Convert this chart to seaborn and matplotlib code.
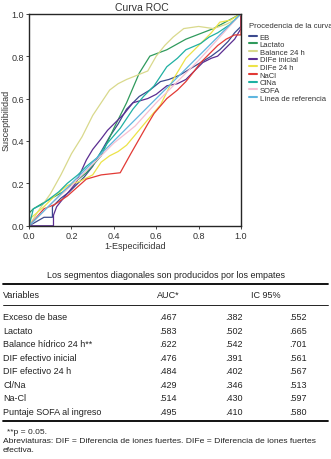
import pandas as pd
import seaborn as sns
import matplotlib.pyplot as plt
from matplotlib.lines import Line2D

# ROC curve points (1-Especificidad, Susceptibilidad)
eb_x = [0, 0.07, 0.11, 0.11, 0.15, 0.19, 0.22, 0.26, 0.30, 0.34, 0.38, 0.42, 0.46, 0.52, 0.57, 0.62, 0.66, 0.71, 0.76, 0.81, 0.86, 0.90, 0.94, 0.97, 1.0, 1.0]
eb_y = [0, 0.04, 0.04, 0.09, 0.13, 0.16, 0.19, 0.23, 0.28, 0.35, 0.42, 0.48, 0.55, 0.61, 0.64, 0.68, 0.69, 0.71, 0.74, 0.77, 0.80, 0.83, 0.87, 0.91, 0.94, 1.0]
lac_x = [0, 0, 0.02, 0.07, 0.16, 0.27, 0.34, 0.40, 0.46, 0.52, 0.57, 0.65, 0.74, 0.87, 1.0]
lac_y = [0, 0.06, 0.08, 0.11, 0.16, 0.25, 0.33, 0.46, 0.58, 0.72, 0.80, 0.83, 0.88, 0.93, 1.0]
bal_x = [0, 0.05, 0.10, 0.15, 0.20, 0.25, 0.30, 0.34, 0.38, 0.42, 0.46, 0.51, 0.56, 0.60, 0.64, 0.68, 0.73, 0.80, 0.87, 0.93, 0.97, 1.0]
bal_y = [0, 0.08, 0.15, 0.24, 0.34, 0.42, 0.52, 0.58, 0.64, 0.67, 0.69, 0.71, 0.73, 0.80, 0.85, 0.89, 0.93, 0.94, 0.93, 0.95, 0.97, 1.0]
difi_x = [0, 0.115, 0.115, 0.13, 0.17, 0.22, 0.27, 0.30, 0.34, 0.37, 0.41, 0.45, 0.49, 0.56, 0.60, 0.65, 0.70, 0.74, 0.78, 0.82, 0.86, 0.89, 0.93, 0.97, 1.0, 1.0]
difi_y = [0, 0, 0.05, 0.09, 0.14, 0.20, 0.31, 0.36, 0.41, 0.45, 0.49, 0.53, 0.58, 0.60, 0.62, 0.66, 0.67, 0.69, 0.73, 0.77, 0.79, 0.80, 0.84, 0.88, 0.93, 1.0]
dif24_x = [0, 0, 0.07, 0.12, 0.18, 0.24, 0.30, 0.34, 0.38, 0.42, 0.46, 0.51, 0.56, 0.62, 0.68, 0.74, 0.81, 0.86, 0.90, 0.95, 1.0]
dif24_y = [0, 0.03, 0.09, 0.14, 0.19, 0.21, 0.24, 0.30, 0.33, 0.35, 0.38, 0.44, 0.50, 0.57, 0.69, 0.79, 0.86, 0.91, 0.96, 0.97, 1.0]
nacl_x = [0, 0.07, 0.12, 0.18, 0.27, 0.34, 0.43, 0.48, 0.52, 0.56, 0.59, 0.65, 0.70, 0.74, 0.78, 0.81, 0.85, 0.89, 0.93, 0.97, 1.0, 1.0]
nacl_y = [0, 0.08, 0.10, 0.14, 0.22, 0.24, 0.25, 0.34, 0.41, 0.48, 0.53, 0.60, 0.64, 0.68, 0.73, 0.77, 0.81, 0.85, 0.88, 0.90, 0.90, 1.0]
clna_x = [0, 0.02, 0.06, 0.10, 0.14, 0.18, 0.23, 0.27, 0.32, 0.37, 0.43, 0.49, 0.54, 0.59, 0.65, 0.70, 0.74, 0.81, 0.85, 0.89, 0.95, 1.0]
clna_y = [0, 0.08, 0.10, 0.13, 0.16, 0.20, 0.24, 0.28, 0.32, 0.39, 0.46, 0.55, 0.61, 0.66, 0.75, 0.79, 0.83, 0.86, 0.89, 0.91, 0.95, 1.0]
sofa_x = [0, 0.1, 0.2, 0.3, 0.4, 0.5, 0.6, 0.7, 0.8, 0.9, 1.0]
sofa_y = [0, 0.1, 0.19, 0.29, 0.39, 0.47, 0.58, 0.68, 0.78, 0.89, 1.0]
ref_x = [0, 1]
ref_y = [0, 1]

curve_names = ["EB", "Lactato", "Balance 24 h", "DIFe inicial", "DIFe 24 h",
               "NaCl", "ClNa", "SOFA", "Línea de referencia"]
curve_colors = ["#3c4a8e", "#2f9a5c", "#d9d98c", "#5b2d91", "#ece348",
                "#e23a35", "#1fb0a2", "#f6bfd2", "#5fb6df"]

# table values
variables = ["Exceso de base", "Lactato", "Balance hídrico 24 h**", "DIF efectivo inicial",
             "DIF efectivo 24 h", "Cl/Na", "Na-Cl", "Puntaje SOFA al ingreso"]
auc = [".467", ".583", ".622", ".476", ".484", ".429", ".514", ".495"]
ic_low = [".382", ".502", ".542", ".391", ".402", ".346", ".430", ".410"]
ic_high = [".552", ".665", ".701", ".561", ".567", ".513", ".597", ".580"]

curves = [(eb_x, eb_y), (lac_x, lac_y), (bal_x, bal_y), (difi_x, difi_y), (dif24_x, dif24_y),
          (nacl_x, nacl_y), (clna_x, clna_y), (sofa_x, sofa_y), (ref_x, ref_y)]
frames = []
for name, (cx, cy) in zip(curve_names, curves):
    frames.append(pd.DataFrame({"x": cx, "y": cy, "curva": name}))
df = pd.concat(frames, ignore_index=True)

sns.set_style("ticks")
plt.rcParams['font.family'] = ['Liberation Sans', 'DejaVu Sans']

fig = plt.figure(figsize=(3.31, 4.6), dpi=100)
ax = fig.add_axes([0.088, 0.507, 0.640, 0.461])

sns.lineplot(data=df, x="x", y="y", hue="curva", hue_order=curve_names,
             palette=dict(zip(curve_names, curve_colors)), estimator=None, sort=False,
             units="curva", linewidth=0.9, ax=ax, legend=False)

ax.set_xlim(0, 1)
ax.set_ylim(0, 1)
ticks = [0.0, 0.2, 0.4, 0.6, 0.8, 1.0]
ax.set_xticks(ticks)
ax.set_yticks(ticks)
ax.set_xticklabels([f"{t:.1f}" for t in ticks], fontsize=6.5, color="#333333")
ax.set_yticklabels([f"{t:.1f}" for t in ticks], fontsize=6.5, color="#333333")
ax.tick_params(length=2, width=0.6, pad=1.5)
for s in ax.spines.values():
    s.set_visible(True)
    s.set_linewidth(1.0)
ax.set_xlabel("1-Especificidad", fontsize=6.5, labelpad=1, color="#333333")
ax.set_ylabel("Susceptibilidad", fontsize=6.5, labelpad=1, color="#333333")
ax.set_title("Curva ROC", fontsize=7.5, pad=3, color="#333333", x=0.53)

handles = [Line2D([0], [0], color=c, lw=1.5) for c in curve_colors]
leg = fig.legend(handles, curve_names, title="Procedencia de la curva",
                 loc="upper left", bbox_to_anchor=(0.752, 0.950), frameon=False,
                 fontsize=5.5, title_fontsize=5.6, handlelength=1.0, handletextpad=0.4,
                 labelspacing=0.04, borderaxespad=0, borderpad=0)
leg._legend_box.align = "left"
leg._legend_box.sep = 3
for t in leg.get_texts():
    t.set_color("#333333")
leg.get_title().set_color("#333333")

# table under the chart
W, H = 331.0, 460.0
def fy(py):
    return 1 - py / H
def fx(px):
    return px / W

txt = dict(fontsize=6.5, color="#222222", va="center")
fig.text(fx(166), fy(275), "Los segmentos diagonales son producidos por los empates", ha="center", **txt)
fig.add_artist(Line2D([fx(3), fx(328)], [fy(285), fy(285)], color="black", lw=1.3))
fig.text(fx(3), fy(296), "Variables", ha="left", **txt)
fig.text(fx(168), fy(296), "AUC*", ha="center", **txt)
fig.text(fx(266), fy(296), "IC 95%", ha="center", **txt)
fig.add_artist(Line2D([fx(3), fx(328)], [fy(306), fy(306)], color="black", lw=0.6))
for i in range(len(variables)):
    y = fy(318 + i * 13.5)
    fig.text(fx(3), y, variables[i], ha="left", **txt)
    fig.text(fx(168), y, auc[i], ha="center", **txt)
    fig.text(fx(234), y, ic_low[i], ha="center", **txt)
    fig.text(fx(298), y, ic_high[i], ha="center", **txt)
fig.add_artist(Line2D([fx(3), fx(328)], [fy(422), fy(422)], color="black", lw=1.3))
foot = dict(fontsize=6.1, color="#222222", va="center")
fig.text(fx(7), fy(433), "**p = 0.05.", ha="left", **foot)
fig.text(fx(3), fy(442), "Abreviaturas: DIF = Diferencia de iones fuertes. DIFe = Diferencia de iones fuertes", ha="left", **foot)
fig.text(fx(3), fy(451), "efectiva.", ha="left", **foot)

fig.savefig("out.png", dpi=100)
